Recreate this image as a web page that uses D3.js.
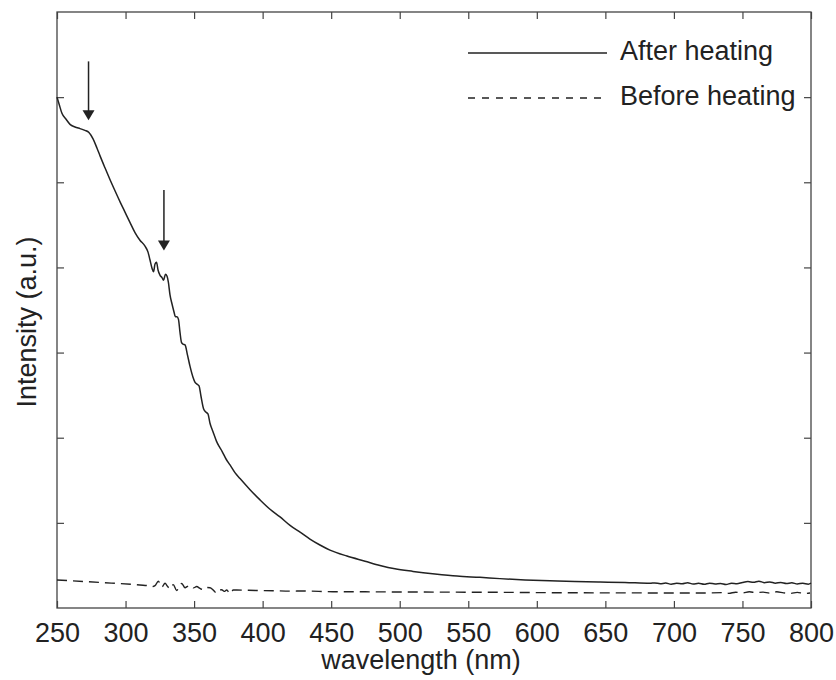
<!DOCTYPE html>
<html>
<head>
<meta charset="utf-8">
<script src="https://cdn.jsdelivr.net/npm/d3@7"></script>
<style>
  body { margin: 0; background: #fff; }
  text { font-family: "Liberation Sans", Arial, sans-serif; fill: #222; }
</style>
</head>
<body>
<div id="chart"></div>
<script>
// After heating curve (wavelength nm, intensity a.u.)
var afterWl = [250, 251.5, 253.6, 256.6, 259.5, 263.1, 266.8, 270.4, 273.3, 276.3, 279.2, 281.4, 285, 288.7, 292.3, 296, 299.6, 303.2, 306.9, 310.5, 314.2, 316.4, 317.8, 319.3, 320.4, 321.5, 322.6, 323.7, 325.1, 326.6, 327.7, 329.1, 330.2, 331.3, 332.4, 333.9, 335.3, 336.4, 337.5, 338.6, 339.7, 340.8, 341.9, 343.4, 345.2, 347, 349.2, 350.7, 352.1, 353.6, 355, 356.9, 358.7, 360.1, 361.6, 363.8, 366.3, 368.2, 370.4, 373.3, 376.2, 379.8, 383.5, 390.8, 398.1, 405.4, 412.7, 420, 427.3, 434.5, 441.8, 449.1, 461.5, 474.7, 485.6, 496.5, 509.7, 525.7, 541.8, 558.5, 573.1, 591.4, 609.6, 627.8, 646.1, 664.3, 682.6, 686, 690, 694, 698, 702, 706, 710, 714, 718, 722, 726, 730, 734, 738, 742, 746, 750, 754, 758, 762, 766, 770, 774, 778, 782, 786, 790, 794, 798, 800];
var afterI = [6.0, 5.92, 5.81, 5.74, 5.68, 5.65, 5.63, 5.61, 5.585, 5.51, 5.4, 5.31, 5.17, 5.03, 4.9, 4.77, 4.65, 4.53, 4.41, 4.32, 4.25, 4.18, 4.09, 3.99, 3.95, 4.04, 4.06, 3.97, 3.91, 3.88, 3.85, 3.92, 3.9, 3.82, 3.68, 3.57, 3.48, 3.42, 3.42, 3.39, 3.24, 3.12, 3.1, 3.09, 2.97, 2.84, 2.71, 2.65, 2.63, 2.61, 2.49, 2.34, 2.3, 2.28, 2.17, 2.07, 1.96, 1.9, 1.84, 1.75, 1.68, 1.59, 1.52, 1.39, 1.27, 1.16, 1.07, 0.97, 0.89, 0.81, 0.74, 0.68, 0.61, 0.55, 0.5, 0.46, 0.43, 0.4, 0.375, 0.36, 0.345, 0.33, 0.32, 0.31, 0.305, 0.3, 0.29, 0.295, 0.285, 0.293, 0.28, 0.29, 0.284, 0.296, 0.282, 0.29, 0.278, 0.292, 0.283, 0.288, 0.276, 0.29, 0.285, 0.3, 0.31, 0.302, 0.315, 0.298, 0.305, 0.292, 0.3, 0.288, 0.296, 0.283, 0.29, 0.28, 0.292, 0.285, 0.29];

// Before heating curve
var beforeWl = [250, 281.4, 310.5, 317.8, 319.1, 321.5, 323.9, 326.4, 328.8, 330.6, 332.4, 334.8, 337.3, 339.2, 341, 343.4, 345.2, 347, 349.5, 351.9, 354.3, 356.7, 359.2, 361.6, 364, 366.5, 368.3, 370.1, 372, 373.8, 376.2, 378.6, 381.1, 395, 407.6, 420, 430, 451.3, 475, 500.2, 540, 573.1, 610, 646.1, 680, 719, 735, 740, 745, 750, 755, 760, 765, 770, 775, 780, 785, 790, 795, 799.3];
var beforeI = [0.329, 0.3, 0.27, 0.258, 0.25, 0.262, 0.315, 0.245, 0.29, 0.255, 0.225, 0.275, 0.205, 0.26, 0.288, 0.238, 0.255, 0.268, 0.236, 0.252, 0.23, 0.215, 0.24, 0.238, 0.21, 0.175, 0.205, 0.215, 0.195, 0.211, 0.168, 0.211, 0.211, 0.206, 0.203, 0.198, 0.2, 0.191, 0.19, 0.188, 0.186, 0.184, 0.18, 0.178, 0.177, 0.176, 0.18, 0.172, 0.185, 0.176, 0.19, 0.18, 0.186, 0.174, 0.19, 0.178, 0.172, 0.184, 0.17, 0.176];

// x ticks, y ticks (unlabelled), arrow annotations
var xTicks = [250, 300, 350, 400, 450, 500, 550, 600, 650, 700, 750, 800];
var yTicks = [1, 2, 3, 4, 5, 6];
var arrowWl = [273, 328];
var arrowFrom = [6.42, 4.91];
var arrowTo = [5.73, 4.2];

var seriesNames = ["After heating", "Before heating"];

var W = 836, H = 680;
var margin = {top: 12, right: 25, bottom: 72, left: 57},
    width = W - margin.left - margin.right,
    height = H - margin.top - margin.bottom;

var svg = d3.select("#chart").append("svg")
  .attr("width", W)
  .attr("height", H);

var g = svg.append("g")
  .attr("transform", `translate(${margin.left}, ${margin.top})`);

var x = d3.scaleLinear().domain([250, 800]).range([0, width]);
var y = d3.scaleLinear().domain([0, 7]).range([height, 0]);

var fontSize = 27;
var ink = "#222";

// axes with inward ticks
var axBottom = g.append("g")
  .attr("transform", `translate(0, ${height})`)
  .call(d3.axisBottom(x).tickValues(xTicks).tickSizeInner(-7).tickSizeOuter(0).tickPadding(15));
var axTop = g.append("g")
  .call(d3.axisTop(x).tickValues(xTicks).tickSizeInner(-7).tickSizeOuter(0).tickFormat(""));
var axLeft = g.append("g")
  .call(d3.axisLeft(y).tickValues(yTicks).tickSizeInner(-7).tickSizeOuter(0).tickFormat(""));
var axRight = g.append("g")
  .attr("transform", `translate(${width}, 0)`)
  .call(d3.axisRight(y).tickValues(yTicks).tickSizeInner(-7).tickSizeOuter(0).tickFormat(""));

[axBottom, axTop, axLeft, axRight].forEach(a => {
  a.select(".domain").remove();
  a.selectAll("line").attr("stroke", "#444").attr("stroke-width", 1.2);
});
axBottom.selectAll("text")
  .style("font-size", fontSize + "px")
  .style("font-family", '"Liberation Sans", Arial, sans-serif')
  .attr("fill", ink);

// frame
g.append("rect")
  .attr("width", width).attr("height", height)
  .attr("fill", "none").attr("stroke", "#444").attr("stroke-width", 1.3);

var line = d3.line()
  .x(d => x(d[0]))
  .y(d => y(d[1]))
  .curve(d3.curveMonotoneX);

var afterData = afterWl.map((w, i) => [w, afterI[i]]);
var beforeData = beforeWl.map((w, i) => [w, beforeI[i]]);

g.append("path")
  .datum(beforeData)
  .attr("d", line)
  .attr("fill", "none")
  .attr("stroke", ink)
  .attr("stroke-width", 1.4)
  .attr("stroke-dasharray", "10,6");

g.append("path")
  .datum(afterData)
  .attr("d", line)
  .attr("fill", "none")
  .attr("stroke", ink)
  .attr("stroke-width", 1.5)
  .attr("stroke-linejoin", "round");

// arrows
arrowWl.forEach((w, i) => {
  var ax = x(w), y0 = y(arrowFrom[i]), y1 = y(arrowTo[i]);
  g.append("line")
    .attr("x1", ax).attr("x2", ax)
    .attr("y1", y0).attr("y2", y1 - 8)
    .attr("stroke", ink).attr("stroke-width", 1.5);
  g.append("path")
    .attr("d", `M${ax - 6},${y1 - 10}L${ax + 6},${y1 - 10}L${ax},${y1}Z`)
    .attr("fill", ink);
});

// legend
var legend = g.append("g").attr("transform", "translate(411, 41)");
seriesNames.forEach((name, i) => {
  var ly = i * 45;
  legend.append("line")
    .attr("x1", 0).attr("x2", 139)
    .attr("y1", ly).attr("y2", ly)
    .attr("stroke", ink)
    .attr("stroke-width", 1.4)
    .attr("stroke-dasharray", i === 1 ? "7,7" : null);
  legend.append("text")
    .attr("x", 152).attr("y", ly + 7)
    .style("font-size", fontSize + "px")
    .text(name);
});

// axis titles
svg.append("text")
  .attr("x", margin.left + width / 2 - 13)
  .attr("y", 669)
  .attr("text-anchor", "middle")
  .style("font-size", fontSize + "px")
  .text("wavelength (nm)");

svg.append("text")
  .attr("transform", "translate(36, 322) rotate(-90)")
  .attr("text-anchor", "middle")
  .style("font-size", fontSize + "px")
  .text("Intensity (a.u.)");
</script>
</body>
</html>
